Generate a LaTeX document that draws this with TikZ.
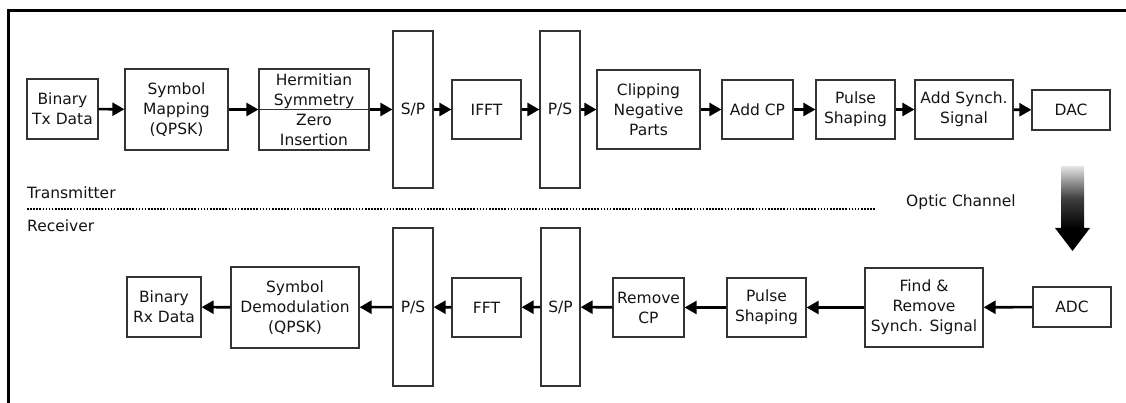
\documentclass[tikz,border=0pt]{standalone}
\usepackage{fontspec}
\setmainfont{DejaVu Sans}
\usetikzlibrary{arrows.meta}
\begin{document}
\begin{tikzpicture}[x=1pt,y=-1pt,
  box/.style={draw=black!80, line width=1.2pt, inner sep=0pt, align=center,
    font=\fontsize{15.5}{20}\selectfont, text=black!92},
  arr/.style={line width=2.6pt, draw=black, -{Triangle[length=12pt,width=13pt]}},
  lbl/.style={inner sep=0pt, anchor=base west, font=\fontsize{15.5}{20}\selectfont, text=black!92}]
\useasboundingbox (0,0) rectangle (1126,403);
% frame
\draw[line width=3pt] (8.5,403) -- (8.5,11) -- (1126,11);
% top row
\node[box, minimum width=71, minimum height=60] (btx) at (62.5,109) {Binary\\Tx Data};
\node[box, minimum width=103, minimum height=81] (symmap) at (176.5,109.5) {Symbol\\Mapping\\(QPSK)};
\node[box, minimum width=110, minimum height=81] (herm) at (314,109.5) {Hermitian\\Symmetry\\Zero\\Insertion};
\node[box, minimum width=40, minimum height=157] (sp1) at (413,109.5) {S/P};
\node[box, minimum width=69, minimum height=59] (ifft) at (486.5,109.5) {IFFT};
\node[box, minimum width=40, minimum height=157] (ps1) at (560,109.5) {P/S};
\node[box, minimum width=103, minimum height=79] (clip) at (648.5,109.5) {Clipping\\Negative\\Parts};
\node[box, minimum width=71, minimum height=59] (addcp) at (757.5,109.5) {Add CP};
\node[box, minimum width=79, minimum height=59] (pulse1) at (855.5,109.5) {Pulse\\Shaping};
\node[box, minimum width=98, minimum height=59] (addsync) at (964,109.5) {Add Synch.\\Signal};
\node[box, minimum width=78, minimum height=40] (dac) at (1071,110) {DAC};
\draw[line width=1.2pt, black!80] (herm.west) -- (herm.east);
\draw[arr] (btx) -- (symmap);
\draw[arr] (symmap) -- (herm);
\draw[arr] (herm.east) -- (sp1.west);
\draw[arr] (sp1) -- (ifft);
\draw[arr] (ifft) -- (ps1);
\draw[arr] (ps1) -- (clip);
\draw[arr] (clip) -- (addcp);
\draw[arr] (addcp) -- (pulse1);
\draw[arr] (pulse1) -- (addsync);
\draw[arr] (addsync) -- (dac);
% separator
\coordinate (dl) at (27,209);
\coordinate (dr) at (876,209);
\draw[line width=1.6pt, dash pattern=on 1.6pt off 1.5pt] (dl) -- (dr);
\node[lbl] (tx) at (27,199) {Transmitter};
\node[lbl] (rx) at (27,232) {Receiver};
\node[lbl] (oc) at (906,207) {Optic Channel};
% optic channel arrow
\shade[top color=black!12, bottom color=black, middle color=black!75] (1061,167) rectangle (1084,229);
\fill[black] (1055,228) -- (1090,228) -- (1072.5,251) -- cycle;
% bottom row
\node[box, minimum width=74, minimum height=60] (brx) at (164,307) {Binary\\Rx Data};
\node[box, minimum width=128, minimum height=81] (demod) at (295,307.5) {Symbol\\Demodulation\\(QPSK)};
\node[box, minimum width=40, minimum height=158] (ps2) at (413,307) {P/S};
\node[box, minimum width=69, minimum height=59] (fft) at (486.5,307.5) {FFT};
\node[box, minimum width=39, minimum height=158] (sp2) at (560.5,307) {S/P};
\node[box, minimum width=71, minimum height=59] (rcp) at (648.5,307.5) {Remove\\CP};
\node[box, minimum width=79, minimum height=59] (pulse2) at (766.5,307.5) {Pulse\\Shaping};
\node[box, minimum width=118, minimum height=79] (find) at (924,307.5) {Find \&\\Remove\\Synch. Signal};
\node[box, minimum width=78, minimum height=40] (adc) at (1072,307) {ADC};
\draw[arr] (adc) -- (find);
\draw[arr] (find) -- (pulse2);
\draw[arr] (pulse2) -- (rcp);
\draw[arr] (rcp) -- (sp2);
\draw[arr] (sp2) -- (fft);
\draw[arr] (fft) -- (ps2);
\draw[arr] (ps2) -- (demod);
\draw[arr] (demod) -- (brx);
\end{tikzpicture}
\end{document}
